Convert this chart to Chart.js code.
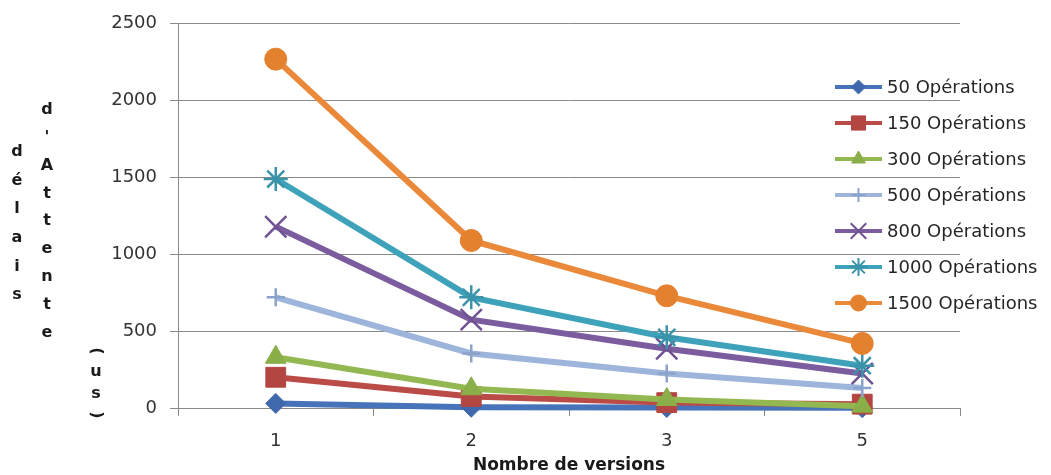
<!DOCTYPE html>
<html>
<head>
<meta charset="utf-8">
<script src="https://cdn.jsdelivr.net/npm/chart.js@4/dist/chart.umd.min.js"></script>
<style>
  html, body { margin: 0; padding: 0; background: #ffffff; }
  #wrap { width: 1051px; height: 475px; position: relative; }
</style>
</head>
<body>
<div id="wrap"><canvas id="chart" width="1051" height="475"></canvas></div>
<script>
// Waiting time (us) by number of versions, one series per operation count
const versions = ['1', '2', '3', '5'];
const ops50   = [30, 5, 3, 2];
const ops150  = [200, 75, 35, 25];
const ops300  = [330, 125, 55, 12];
const ops500  = [720, 355, 225, 130];
const ops800  = [1180, 575, 385, 225];
const ops1000 = [1490, 720, 460, 275];
const ops1500 = [2270, 1090, 730, 420];
const seriesLabels = ['50 Opérations', '150 Opérations', '300 Opérations', '500 Opérations',
                      '800 Opérations', '1000 Opérations', '1500 Opérations'];
const yTicks = [0, 500, 1000, 1500, 2000, 2500];
const yTitleColumns = ['délais', "d'Attente", '(us)'];
const xTitle = 'Nombre de versions';

const FONT = 'DejaVu Sans';
const GRID = '#8a8a8a';

const styles = [
  { line: '#4673B9', mark: '#3F69AC', shape: 'rectRot',  r: 10, lr: 7,  bw: 1 },
  { line: '#BB4B47', mark: '#B34542', shape: 'rect',     r: 14, lr: 10, bw: 1 },
  { line: '#94B851', mark: '#8AAE48', shape: 'triangle', r: 12, lr: 8,  bw: 1 },
  { line: '#9DB5DA', mark: '#8BA3CB', shape: 'cross',    r: 9,  lr: 7,  bw: 2.5 },
  { line: '#7B5C9F', mark: '#6E5292', shape: 'crossRot', r: 15, lr: 11, bw: 2.5 },
  { line: '#3EA3BA', mark: '#3A93A9', shape: 'star',     r: 12, lr: 9,  bw: 2.5 },
  { line: '#EA893A', mark: '#E4812F', shape: 'circle',   r: 11, lr: 8,  bw: 1 }
];
const seriesValues = [ops50, ops150, ops300, ops500, ops800, ops1000, ops1500];

const datasets = seriesValues.map((vals, i) => {
  const s = styles[i];
  const filled = !['cross', 'crossRot', 'star'].includes(s.shape);
  return {
    label: seriesLabels[i],
    data: vals,
    borderColor: s.line,
    backgroundColor: s.line,
    borderWidth: 6,
    tension: 0,
    pointStyle: s.shape,
    pointRadius: s.r,
    pointHoverRadius: s.r,
    pointBackgroundColor: filled ? s.mark : 'rgba(0,0,0,0)',
    pointBorderColor: s.mark,
    pointBorderWidth: s.bw,
    clip: false,
    order: seriesValues.length - i
  };
});

// Legend drawn over the right side of the plot, without a background
const overlayLegend = {
  id: 'overlayLegend',
  afterDatasetsDraw(chart) {
    const ctx = chart.ctx;
    const x0 = 835, x1 = 882, tx = 887, y0 = 87, step = 36;
    ctx.save();
    chart.data.datasets.forEach((ds, i) => {
      const s = styles[i];
      const y = y0 + i * step;
      ctx.strokeStyle = s.line;
      ctx.lineWidth = 4;
      ctx.beginPath();
      ctx.moveTo(x0, y);
      ctx.lineTo(x1, y);
      ctx.stroke();
      const filled = !['cross', 'crossRot', 'star'].includes(s.shape);
      ctx.fillStyle = s.mark;
      ctx.strokeStyle = s.mark;
      ctx.lineWidth = filled ? 1 : 2;
      Chart.helpers.drawPoint(ctx, { pointStyle: s.shape, radius: s.lr, rotation: 0, borderWidth: ctx.lineWidth }, (x0 + x1) / 2, y);
      ctx.fillStyle = '#262626';
      ctx.font = '18px "' + FONT + '"';
      ctx.textAlign = 'left';
      ctx.textBaseline = 'middle';
      ctx.fillText(ds.label, tx, y + 1);
    });
    ctx.restore();
  }
};

// Vertical stacked y-axis title, parentheses turned a quarter
const stackedYTitle = {
  id: 'stackedYTitle',
  afterDraw(chart) {
    const ctx = chart.ctx;
    const cols = [
      { x: 17, y: 152, step: 28.6 },
      { x: 47, y: 110, step: 27.8 },
      { x: 96, y: 351, step: 21.3 }
    ];
    ctx.save();
    ctx.fillStyle = '#1a1a1a';
    ctx.font = 'bold 16px "' + FONT + '"';
    ctx.textAlign = 'center';
    ctx.textBaseline = 'middle';
    yTitleColumns.forEach((text, c) => {
      const col = cols[c];
      Array.from(text).forEach((ch, k) => {
        const y = col.y + k * col.step;
        if (ch === '(' || ch === ')') {
          ctx.save();
          ctx.translate(col.x, y);
          ctx.rotate(Math.PI / 2);
          ctx.fillText(ch, 0, 0);
          ctx.restore();
        } else {
          ctx.fillText(ch, col.x, y);
        }
      });
    });
    ctx.restore();
  }
};

new Chart(document.getElementById('chart'), {
  type: 'line',
  data: { labels: versions, datasets },
  options: {
    responsive: false,
    animation: false,
    events: [],
    layout: { padding: { left: 0, right: 91, top: 22, bottom: 0 } },
    plugins: { legend: { display: false }, tooltip: { enabled: false } },
    scales: {
      x: {
        type: 'category',
        offset: true,
        grid: { offset: true, drawOnChartArea: false, tickLength: 8, color: GRID, lineWidth: 1 },
        border: { color: GRID, width: 1 },
        ticks: { padding: 15, color: '#333333', font: { family: FONT, size: 18 } },
        title: { display: true, text: xTitle, color: '#1a1a1a', font: { family: FONT, size: 17, weight: 'bold', lineHeight: 1.1 }, padding: { top: 0, bottom: 0 } },
        afterFit(scale) { scale.height = 67; }
      },
      y: {
        min: 0,
        max: 2500,
        afterBuildTicks(scale) { scale.ticks = yTicks.map(v => ({ value: v })); },
        grid: { color: GRID, lineWidth: 1, tickLength: 8 },
        border: { color: GRID, width: 1 },
        ticks: { padding: 13, color: '#333333', font: { family: FONT, size: 18 }, callback: v => String(v) },
        afterFit(scale) { scale.width = 178; }
      }
    }
  },
  plugins: [overlayLegend, stackedYTitle]
});
</script>
</body>
</html>
